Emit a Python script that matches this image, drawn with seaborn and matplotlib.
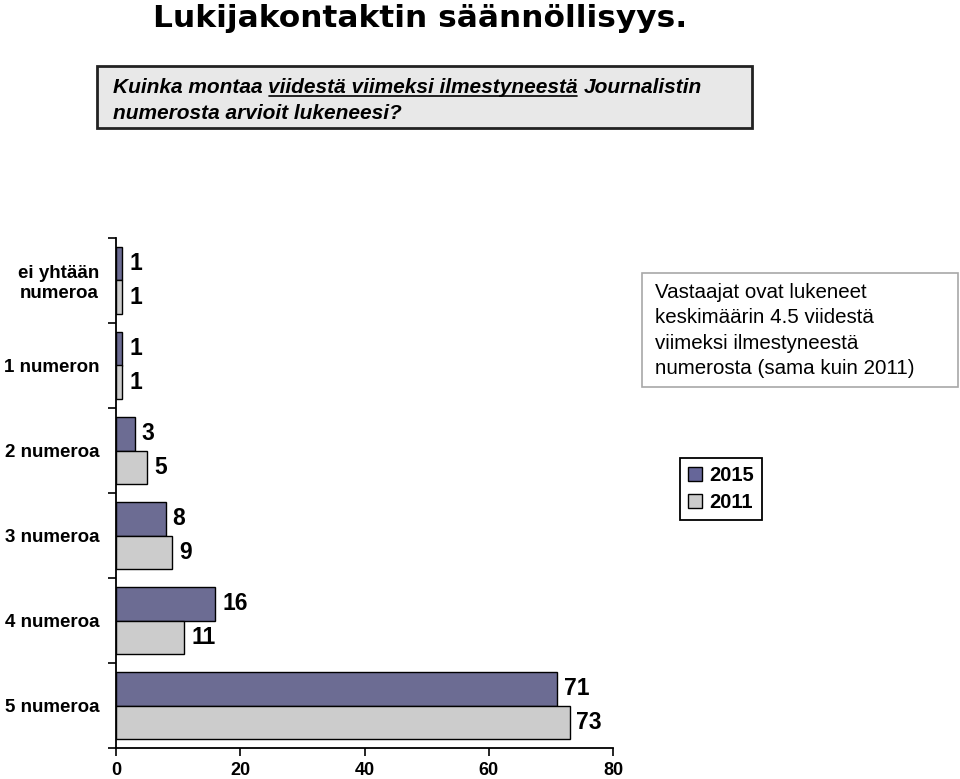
import numpy as np
import pandas as pd
import matplotlib
matplotlib.use("Agg")
import matplotlib.pyplot as plt
from matplotlib.patches import Rectangle, Patch
import seaborn as sns

categories = ["ei yhtään\nnumeroa", "1 numeron", "2 numeroa", "3 numeroa", "4 numeroa", "5 numeroa"]
values_2015 = [1, 1, 3, 8, 16, 71]
values_2011 = [1, 1, 5, 9, 11, 73]
series = ["2015", "2011"]
colors = {"2015": "#666699", "2011": "#CCCCCC"}
xticks = [0, 20, 40, 60, 80]

title = "Lukijakontaktin säännöllisyys."
question_a = "Kuinka montaa"
question_u = "viidestä viimeksi ilmestyneestä"
question_b = "Journalistin"
question_2 = "numerosta arvioit lukeneesi?"
note = "Vastaajat ovat lukeneet\nkeskimäärin 4.5 viidestä\nviimeksi ilmestyneestä\nnumerosta (sama kuin 2011)"

sns.set_theme(style="white")
NARROW = ["Liberation Sans Narrow", "Liberation Sans", "DejaVu Sans"]
ARIAL = ["Liberation Sans", "DejaVu Sans"]
plt.rcParams["font.family"] = ARIAL
plt.rcParams["text.color"] = "black"
plt.rcParams["xtick.color"] = "black"
plt.rcParams["ytick.color"] = "black"
plt.rcParams["axes.labelcolor"] = "black"

df = pd.DataFrame({
    "cat": categories * 2,
    "year": [series[0]] * len(categories) + [series[1]] * len(categories),
    "val": values_2015 + values_2011,
})

W, H = 960, 779
fig = plt.figure(figsize=(W / 100, H / 100), dpi=100)

def fx(px):
    return px / W

def fy(py):
    return 1 - py / H

ax = fig.add_axes([fx(116), fy(748), fx(613) - fx(116), fy(238) - fy(748)])
sns.barplot(data=df, y="cat", x="val", hue="year", hue_order=series, palette=colors,
            orient="h", width=0.78, edgecolor="black", linewidth=1.0, ax=ax, legend=False)

for cont in ax.containers:
    ax.bar_label(cont, padding=5, fontsize=16.5, fontweight="bold", family=NARROW, color="black")

ax.set_xlim(0, 80)
ax.set_ylim(len(categories) - 0.5, -0.5)
ax.set_xticks(xticks)
ax.set_xticklabels([str(t) for t in xticks], fontsize=13, fontweight="bold", family=NARROW)
ax.set_yticks(np.arange(-0.5, len(categories), 1.0))
ax.set_yticklabels([])
ax.set_yticks(np.arange(len(categories)), minor=True)
ax.set_yticklabels(categories, minor=True, fontsize=13.5, fontweight="bold", family=NARROW,
                   multialignment="center")
ax.tick_params(axis="y", which="major", direction="out", length=6, width=1.2, color="black", left=True)
ax.tick_params(axis="y", which="minor", length=0, pad=12)
ax.tick_params(axis="x", which="major", direction="out", length=6, width=1.2, color="black", bottom=True, pad=4)
ax.set_xlabel("")
ax.set_ylabel("")
for s in ["top", "right"]:
    ax.spines[s].set_visible(False)
for s in ["left", "bottom"]:
    ax.spines[s].set_color("black")
    ax.spines[s].set_linewidth(1.3)
ax.grid(False)

# legend
handles = [Patch(facecolor=colors[s], edgecolor="black", label=s) for s in series]
leg = fig.legend(handles=handles, loc="upper left", bbox_to_anchor=(fx(680), fy(458)),
                 frameon=True, fancybox=False, edgecolor="black", framealpha=1,
                 handlelength=0.7, handleheight=0.7, handletextpad=0.35,
                 borderpad=0.4, labelspacing=0.4, borderaxespad=0,
                 prop={"family": NARROW, "weight": "bold", "size": 14.5})
leg.get_frame().set_linewidth(1.3)

# note box
fig.patches.append(Rectangle((fx(642), fy(387)), fx(958) - fx(642), fy(273) - fy(387),
                             transform=fig.transFigure, facecolor="white",
                             edgecolor="#A8A8A8", linewidth=1.2))
fig.text(fx(655), fy(283), note, ha="left", va="top", fontsize=14.8, family=ARIAL,
         linespacing=1.42, color="black")

# question box
fig.patches.append(Rectangle((fx(97), fy(128)), fx(752) - fx(97), fy(66) - fy(128),
                             transform=fig.transFigure, facecolor="#E8E8E8",
                             edgecolor="#222222", linewidth=2))

# title
fig.text(fx(420), fy(27), title, ha="center", va="baseline", fontsize=22.5, fontweight="bold",
         family=["DejaVu Sans"], color="black")

qkw = dict(fontsize=15, style="italic", fontweight="bold", family=NARROW, color="black",
           va="baseline", ha="left")
fig.canvas.draw()
r = fig.canvas.get_renderer()

def width_px(t):
    bb = t.get_window_extent(renderer=r)
    return bb.x1 - bb.x0

probe1 = fig.text(0, 0, "a a", **qkw)
probe2 = fig.text(0, 0, "aa", **qkw)
space = width_px(probe1) - width_px(probe2)
probe1.remove(); probe2.remove()

x = 113
base1 = 93
t1 = fig.text(fx(x), fy(base1), question_a, **qkw)
x += width_px(t1) + space
t2 = fig.text(fx(x), fy(base1), question_u, **qkw)
w2 = width_px(t2)
fig.lines.append(plt.Line2D([fx(x + 1), fx(x + w2 - 1)], [fy(base1 + 3), fy(base1 + 3)],
                            transform=fig.transFigure, color="black", linewidth=1.2))
x += w2 + space
fig.text(fx(x), fy(base1), question_b, **qkw)
fig.text(fx(113), fy(119), question_2, **qkw)

fig.savefig("out.png", dpi=100)
